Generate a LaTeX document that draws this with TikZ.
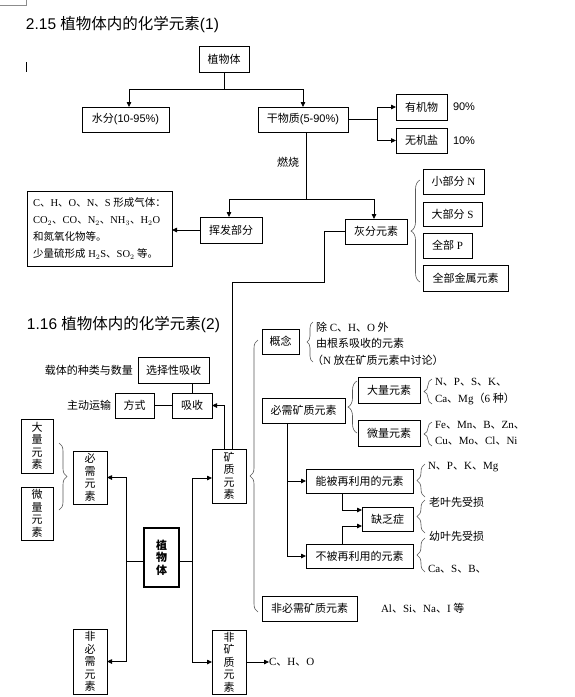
\documentclass[tikz,border=0pt]{standalone}
\usepackage{fontspec}
\setmainfont{Liberation Serif}
\setsansfont{Liberation Sans}
\newfontfamily\cjk{Noto Sans CJK SC}
\usetikzlibrary{arrows.meta,decorations.pathreplacing,calc}
% automatic switch between Latin and CJK fonts
\XeTeXinterchartokenstate=1
\newXeTeXintercharclass\CJKcls
\newcount\cjkcc
\cjkcc="2E80
\loop\ifnum\cjkcc<"A000 \XeTeXcharclass\cjkcc=\CJKcls \advance\cjkcc by 1 \repeat
\cjkcc="FF00
\loop\ifnum\cjkcc<"FFF0 \XeTeXcharclass\cjkcc=\CJKcls \advance\cjkcc by 1 \repeat
\newcommand\latinsel{\rmfamily}
\XeTeXinterchartoks 0 \CJKcls={\cjk}
\XeTeXinterchartoks 4095 \CJKcls={\cjk}
\XeTeXinterchartoks \CJKcls 0={\latinsel}
\XeTeXinterchartoks \CJKcls 4095={\latinsel}
\begin{document}
\begin{tikzpicture}[x=1pt,y=-1pt,
  every node/.style={inner sep=0pt,outer sep=0pt,font=\fontsize{11}{13}\selectfont},
  box/.style={draw,line width=0.8pt},
  vbox/.style={box,align=center,font=\fontsize{11}{12.5}\selectfont},
  sanslat/.style={font=\fontsize{11}{13}\selectfont\sffamily\def\latinsel{\sffamily}},
  titl/.style={anchor=west,font=\fontsize{15.5}{18}\selectfont\sffamily\def\latinsel{\sffamily}},
  lbl/.style={anchor=west},
  con/.style={line width=0.8pt},
  arr/.style={con,-{Triangle[length=5pt,width=4.5pt]}},
  brc/.style={decorate,decoration={brace,amplitude=#1},draw=black!65,line width=0.6pt},
  brc/.default=8pt]
\fill[white] (0,0) rectangle (574,697);
\useasboundingbox (0,0) rectangle (574,697);
\draw[black!45,line width=0.6pt] (0,5) -- (26,5) -- (26,0);
\draw[line width=1.5pt] (26.5,62) -- (26.5,72);

% ---------- titles ----------
\node[titl] (t1) at (26,25) {2.15 植物体内的化学元素(1)};
\node[titl] (t2) at (27,325) {1.16 植物体内的化学元素(2)};

% ---------- part 1 ----------
\node[box,minimum width=50pt,minimum height=26pt] (zw) at (224,59) {植物体};
\node[box,sanslat,minimum width=87pt,minimum height=25pt] (sf) at (125.5,119.5) {水分(10-95\%)};
\node[box,sanslat,minimum width=90pt,minimum height=25pt] (gw) at (303,119.5) {干物质(5-90\%)};
\node[box,minimum width=51pt,minimum height=26pt] (yj) at (421.5,107) {有机物};
\node[box,minimum width=51pt,minimum height=25pt] (wj) at (421.5,140.5) {无机盐};
\node[lbl,sanslat] (p90) at (453,107) {90\%};
\node[lbl,sanslat] (p10) at (453,141) {10\%};
\node[lbl] (rs) at (277,162) {燃烧};
\node[box,align=left,minimum width=145pt,minimum height=75pt,
      font=\fontsize{10.5}{17}\selectfont] (gas) at (99.5,228.5)
  {C、H、O、N、S 形成气体：\\
   CO$_2$、CO、N$_2$、NH$_3$、H$_2$O\\
   和氮氧化物等。\\
   少量硫形成 H$_2$S、SO$_2$ 等。};
\node[box,minimum width=62pt,minimum height=26pt] (hf) at (231,230) {挥发部分};
\node[box,minimum width=62pt,minimum height=25pt] (hfy) at (376,231.5) {灰分元素};
\node[box,minimum width=61pt,minimum height=25pt] (n) at (453.5,181.5) {小部分 N};
\node[box,minimum width=59pt,minimum height=24pt] (s) at (452.5,214) {大部分 S};
\node[box,minimum width=49pt,minimum height=25pt] (p) at (447.5,245.5) {全部 P};
\node[box,minimum width=85pt,minimum height=26pt] (metal) at (465.5,278) {全部金属元素};

\coordinate (j1) at (224,89);
\draw[con] (zw.south) -- (j1);
\draw[arr] (j1) -| ([xshift=3.5pt]sf.north);
\draw[arr] (j1) -| (gw.north);
\draw[arr] (gw.east) -- ++(29,0) |- (yj.west);
\draw[arr] (gw.east) -- ++(29,0) |- (wj.west);
\coordinate (j3) at (306,199);
\draw[con] ([xshift=3pt]gw.south) -- (j3);
\draw[arr] (j3) -| ([xshift=-2pt]hf.north);
\draw[arr] (j3) -| ([xshift=-2pt]hfy.north);
\draw[arr] (hf.west) -- (hf.west -| gas.east);
\draw[brc=9pt] (420,282) -- (420,180);

% ---------- part 2 ----------
\node[box,minimum width=71pt,minimum height=26pt] (xz) at (173.5,370) {选择性吸收};
\node[box,minimum width=39pt,minimum height=25pt] (fs) at (134.5,405.5) {方式};
\node[box,minimum width=40pt,minimum height=25pt] (xs) at (192,405.5) {吸收};
\node[anchor=east] (zt) at ([xshift=-5pt]xz.west) {载体的种类与数量};
\node[anchor=east] (zd) at ([xshift=-4pt]fs.west) {主动运输};

\node[vbox,minimum width=32pt,minimum height=54pt] (dl) at (37,446) {大\\量\\元\\素};
\node[vbox,minimum width=32pt,minimum height=53pt] (wl) at (37,513.5) {微\\量\\元\\素};
\node[vbox,minimum width=34pt,minimum height=53pt] (bx) at (90,477.5) {必\\需\\元\\素};
\node[vbox,minimum width=34pt,minimum height=54pt] (kz) at (229,476) {矿\\质\\元\\素};
\node[vbox,line width=1.6pt,minimum width=35pt,minimum height=59pt,
      font=\fontsize{11}{12.5}\selectfont\bfseries] (zwc) at (161.5,557.5) {植\\物\\体};
\node[vbox,minimum width=34pt,minimum height=65pt] (fbx) at (90,661.5) {非\\必\\需\\元\\素};
\node[vbox,minimum width=34pt,minimum height=64pt] (fkz) at (229,662) {非\\矿\\质\\元\\素};
\node[lbl] (cho) at (269,662) {C、H、O};

\node[box,minimum width=37pt,minimum height=25pt] (gn) at (280.5,341.5) {概念};
\node[lbl] (g1) at (316,327) {除 C、H、O 外};
\node[lbl] (g2) at (316,343) {由根系吸收的元素};
\node[lbl] (g3) at (312,360) {（N 放在矿质元素中讨论）};
\node[box,minimum width=83pt,minimum height=25pt] (bxk) at (303.5,410.5) {必需矿质元素};
\node[box,minimum width=62pt,minimum height=26pt] (dly) at (389,390) {大量元素};
\node[box,minimum width=62pt,minimum height=26pt] (wly) at (389,433) {微量元素};
\node[lbl] (e1) at (435,382) {N、P、S、K、};
\node[lbl] (e2) at (435,399) {Ca、Mg（6 种）};
\node[lbl] (e3) at (435,425) {Fe、Mn、B、Zn、};
\node[lbl] (e4) at (435,441) {Cu、Mo、Cl、Ni};
\node[box,minimum width=107pt,minimum height=24pt] (nb) at (359.5,481) {能被再利用的元素};
\node[box,minimum width=51pt,minimum height=24pt] (qf) at (387.5,519) {缺乏症};
\node[box,minimum width=107pt,minimum height=24pt] (bb) at (359.5,556) {不被再利用的元素};
\node[lbl] (r1) at (428,467) {N、P、K、Mg};
\node[lbl] (r2) at (429,502) {老叶先受损};
\node[lbl] (r3) at (429,536) {幼叶先受损};
\node[lbl] (r4) at (428,569) {Ca、S、B、};
\node[box,minimum width=95pt,minimum height=25pt] (fbk) at (309.5,608.5) {非必需矿质元素};
\node[lbl] (fe) at (381,608) {Al、Si、Na、I 等};

% connectors part 2
\coordinate (b1) at (324,282);
\draw[con] (hfy.west) -| (b1) -| ([xshift=3pt]kz.north);
\draw[arr] ([xshift=-5pt]kz.north) |- (xs.east);
\draw[con] (xz.south -| xs.north) -- (xs.north);
\draw[con] (fs.east) -- (xs.west);
\draw[arr] ([yshift=-3.5pt]zwc.west) -- ++(-18,0) |- (bx.east);
\draw[arr] ([yshift=-3.5pt]zwc.west) -- ++(-18,0) |- (fbx.east);
\draw[arr] ([yshift=-3.5pt]zwc.east) -- ++(13,0) |- ([yshift=-2pt]kz.west);
\draw[arr] ([yshift=-3.5pt]zwc.east) -- ++(13,0) |- (fkz.west);
\draw[arr] (fkz.east) -- (cho.west);
\draw[arr] ([xshift=-16.5pt]bxk.south) |- (nb.west);
\draw[arr] ([xshift=-16.5pt]bxk.south) |- (bb.west);
\draw[arr] ([xshift=-17.5pt]nb.south) |- ([yshift=9pt]qf.west);
\draw[arr] ([xshift=-17.5pt]bb.north) |- ([yshift=-7pt]qf.west);

% braces part 2
\draw[brc=8pt] (258,612) -- (258,340);
\draw[brc=8pt] (59,443) -- (59,510);
\draw[brc=6pt] (313,362) -- (313,322);
\draw[brc=9pt] (357,433) -- (357,381);
\draw[brc=8pt] (432,404) -- (432,379);
\draw[brc=8pt] (432,446) -- (432,422);
\draw[brc=8pt] (425,497) -- (425,464);
\draw[brc=8pt] (425,533) -- (425,500);
\draw[brc=8pt] (425,572) -- (425,538);
\end{tikzpicture}
\end{document}
